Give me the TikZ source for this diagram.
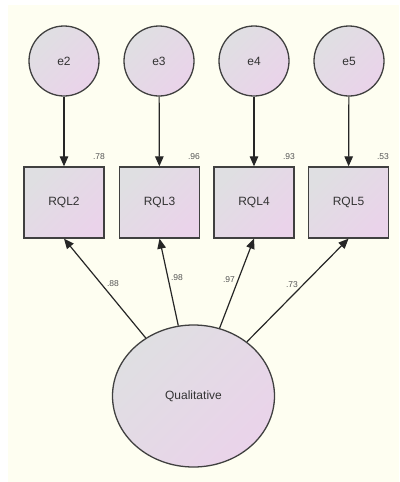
\documentclass[tikz,border=0pt]{standalone}
\usepackage{fontspec}
\setmainfont{Liberation Sans}
\usetikzlibrary{arrows.meta,shapes.geometric}
\definecolor{paper}{HTML}{FEFEF1}
\definecolor{shadeA}{HTML}{DFDFE2}
\definecolor{shadeB}{HTML}{EAD3EA}
\definecolor{edge}{HTML}{404040}
\definecolor{coef}{HTML}{555555}
\tikzset{
  x=1pt, y=-1pt,
  filled/.style={draw=edge, line width=1.3pt, shading=axis, left color=shadeA, right color=shadeB, shading angle=45, text=black!80, font=\fontsize{12}{14}\selectfont},
  errvar/.style={filled, circle, minimum size=70pt, inner sep=0pt},
  obsvar/.style={filled, rectangle, minimum width=80pt, minimum height=71pt, inner sep=0pt},
  latvar/.style={filled, ellipse, minimum width=162pt, minimum height=142pt, inner sep=0pt},
  path/.style={draw=black!85, line width=1.2pt, -{Triangle[length=10pt,width=8.5pt]}},
  est/.style={text=coef, font=\fontsize{8.5}{10}\selectfont, inner sep=0pt}
}
\begin{document}
\begin{tikzpicture}
\useasboundingbox (0,0) rectangle (399,482);
\fill[white] (0,0) rectangle (399,482);
\fill[paper] (8,5) rectangle (399,482);

% error terms
\node[errvar] (e2) at (64,61) {e2};
\node[errvar] (e3) at (159,61) {e3};
\node[errvar] (e4) at (254,61) {e4};
\node[errvar] (e5) at (349,61) {e5};

% observed indicators
\node[obsvar] (r2) at (64,202.5) {RQL2};
\node[obsvar] (r3) at (159.5,202.5) {RQL3};
\node[obsvar] (r4) at (254,202.5) {RQL4};
\node[obsvar] (r5) at (348.5,202.5) {RQL5};

% latent factor
\node[latvar] (q) at (193.5,396) {Qualitative};

% error paths
\draw[path] (e2) -- (r2);
\draw[path] (e3) -- (r3);
\draw[path] (e4) -- (r4);
\draw[path] (e5) -- (r5);

% loadings
\draw[path] (q) -- (r2.south);
\draw[path] (q) -- (r3.south);
\draw[path] (q) -- (r4.south);
\draw[path] (q) -- (r5.south);

% squared multiple correlations
\node[est] (s2) at (99,157) {.78};
\node[est] (s3) at (194,157) {.96};
\node[est] (s4) at (289,157) {.93};
\node[est] (s5) at (383,157) {.53};

% standardized loadings
\node[est] (l2) at (113,284) {.88};
\node[est] (l3) at (177,278) {.98};
\node[est] (l4) at (229,280) {.97};
\node[est] (l5) at (292,285) {.73};
\end{tikzpicture}
\end{document}
